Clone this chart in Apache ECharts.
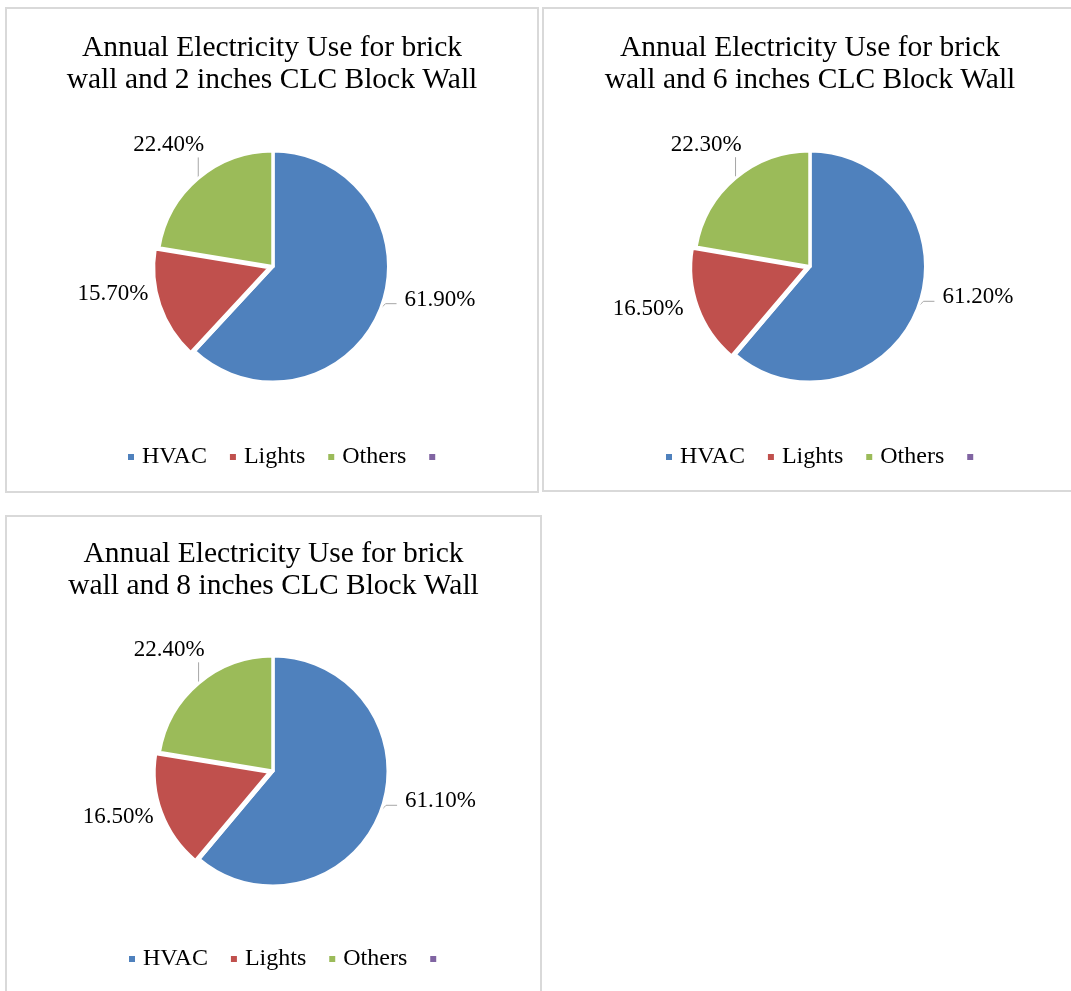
<!DOCTYPE html>
<html>
<head>
<meta charset="utf-8">
<script src="https://cdn.jsdelivr.net/npm/echarts@6/dist/echarts.min.js"></script>
<style>
  html, body { margin: 0; padding: 0; background: #fff; width: 1071px; height: 991px; overflow: hidden; }
  .chart { position: absolute; }
  .frame { position: absolute; border: 2px solid #d9d9d9; box-sizing: border-box; pointer-events: none; }
</style>
</head>
<body>
<div id="c1" class="chart"></div>
<div id="c2" class="chart"></div>
<div id="c3" class="chart"></div>
<div id="f1" class="frame"></div>
<div id="f2" class="frame"></div>
<div id="f3" class="frame"></div>
<script>
// Energy end-use categories (the fourth legend entry has no label)
const categories = ['HVAC', 'Lights', 'Others', ' '];
const colors = ['#4F81BD', '#C0504D', '#9BBB59', '#8064A2'];

// Share of annual electricity use, in percent
const share2in = [61.9, 15.7, 22.4, 0];
const share6in = [61.2, 16.5, 22.3, 0];
const share8in = [61.1, 16.5, 22.4, 0];

const titles = [
  'Annual Electricity Use for brick\nwall and 2 inches CLC Block Wall',
  'Annual Electricity Use for brick\nwall and 6 inches CLC Block Wall',
  'Annual Electricity Use for brick\nwall and 8 inches CLC Block Wall'
];

const FONT = '"Liberation Serif", "Times New Roman", serif';
const EXPLODE = 4;        // how far the Lights slice is pulled out, px
const EXPLODED_INDEX = 1; // Lights

// Panel boxes and per-panel layout tweaks
const panels = [
  { id: 'c1', frame: 'f1', left: 5, top: 7, width: 534, height: 486, values: share2in, title: titles[0],
    center: [268, 259.5], radius: 115.5, titleTop: 20, legendLeft: 116, legendTop: 433, lightsShift: [-3.7, -6.3] },
  { id: 'c2', frame: 'f2', left: 542, top: 7, width: 536, height: 485, values: share6in, title: titles[1],
    center: [268, 259.5], radius: 115.5, titleTop: 20, legendLeft: 117, legendTop: 433, lightsShift: [-5.7, 6.7] },
  { id: 'c3', frame: 'f3', left: 5, top: 515, width: 537, height: 490, values: share8in, title: titles[2],
    center: [268, 256], radius: 115, titleTop: 18, legendLeft: 117, legendTop: 427, lightsShift: [0.8, 9.7] }
];

const labelBase = {
  show: true,
  position: 'outside',
  fontFamily: FONT,
  fontSize: 23,
  color: '#000',
  formatter: function (d) { return d.value.toFixed(2) + '%'; }
};
const lineBase = { show: true, length: 8, length2: 8, lineStyle: { color: '#a6a6a6', width: 1 } };
const hidden = { color: 'rgba(0,0,0,0)', borderWidth: 0 };

panels.forEach(function (p) {
  const el = document.getElementById(p.id);
  const fr = document.getElementById(p.frame);
  [el, fr].forEach(function (d) {
    d.style.left = p.left + 'px';
    d.style.top = p.top + 'px';
    d.style.width = p.width + 'px';
    d.style.height = p.height + 'px';
  });

  const chart = echarts.init(el, null, { renderer: 'canvas' });

  // Direction of the exploded slice: middle of its angular span, clockwise from 12 o'clock
  const total = p.values.reduce(function (a, b) { return a + b; }, 0);
  let before = 0;
  for (let i = 0; i < EXPLODED_INDEX; i++) before += p.values[i];
  const mid = (before + p.values[EXPLODED_INDEX] / 2) / total * Math.PI * 2;
  const shiftedCenter = [p.center[0] + EXPLODE * Math.sin(mid), p.center[1] - EXPLODE * Math.cos(mid)];

  // Main pie: every slice except Lights
  const mainData = categories.map(function (name, i) {
    const item = { name: name, value: p.values[i], itemStyle: { color: colors[i] } };
    if (i === EXPLODED_INDEX) {
      item.itemStyle = { color: 'rgba(0,0,0,0)' };
      item.label = { show: false };
      item.labelLine = { show: false };
    }
    if (i === 3) {
      item.label = { show: false };
      item.labelLine = { show: false };
    }
    return item;
  });

  // Pulled-out pie: only the Lights slice is visible
  const explodedData = categories.map(function (name, i) {
    if (i === EXPLODED_INDEX) {
      return { name: name, value: p.values[i], itemStyle: { color: colors[i] }, labelLine: { show: false } };
    }
    return { name: name, value: p.values[i], itemStyle: hidden, label: { show: false }, labelLine: { show: false } };
  });

  chart.setOption({
    animation: false,
    title: {
      text: p.title,
      left: 'center',
      top: p.titleTop,
      textStyle: { fontFamily: FONT, fontSize: 29.5, fontWeight: 'normal', color: '#000', lineHeight: 32 }
    },
    legend: {
      data: categories.map(function (name, i) { return { name: name, itemStyle: { color: colors[i] } }; }),
      left: p.legendLeft,
      top: p.legendTop,
      icon: 'rect',
      itemWidth: 8,
      itemHeight: 8,
      itemGap: 21,
      selectedMode: false,
      textStyle: { fontFamily: FONT, fontSize: 24, color: '#000', padding: [0, 0, 0, 2] }
    },
    series: [{
      type: 'pie',
      center: p.center,
      radius: p.radius,
      startAngle: 90,
      clockwise: true,
      avoidLabelOverlap: false,
      itemStyle: { borderColor: '#fff', borderWidth: 3 },
      emphasis: { disabled: true },
      label: labelBase,
      labelLine: lineBase,
      labelLayout: function (params) {
        const pts = params.labelLinePoints;
        if (!pts || !pts.length) return {};
        const x0 = pts[0][0], y0 = pts[0][1];
        if (params.dataIndex === 0) {
          return {
            x: x0 + 24, y: y0 - 9, align: 'left', verticalAlign: 'middle',
            labelLinePoints: [[x0, y0], [x0 + 5, y0 - 5], [x0 + 16, y0 - 5]]
          };
        }
        if (params.dataIndex === 2) {
          return {
            x: x0 + 6, y: y0 - 22, align: 'right', verticalAlign: 'bottom',
            labelLinePoints: [[x0, y0], [x0, y0 - 21], [x0, y0 - 21]]
          };
        }
        return {};
      },
      data: mainData
    }, {
      type: 'pie',
      center: shiftedCenter,
      radius: p.radius,
      startAngle: 90,
      clockwise: true,
      avoidLabelOverlap: false,
      silent: true,
      itemStyle: { borderColor: '#fff', borderWidth: 3 },
      emphasis: { disabled: true },
      label: labelBase,
      labelLine: lineBase,
      labelLayout: function (params) {
        if (params.dataIndex !== EXPLODED_INDEX) return {};
        // placed beside the slice's outer left edge
        const r = params.rect;
        return {
          x: r.x + p.lightsShift[0], y: r.y + r.height / 2 + p.lightsShift[1],
          align: 'right', verticalAlign: 'middle'
        };
      },
      data: explodedData
    }]
  });
});
</script>
</body>
</html>
